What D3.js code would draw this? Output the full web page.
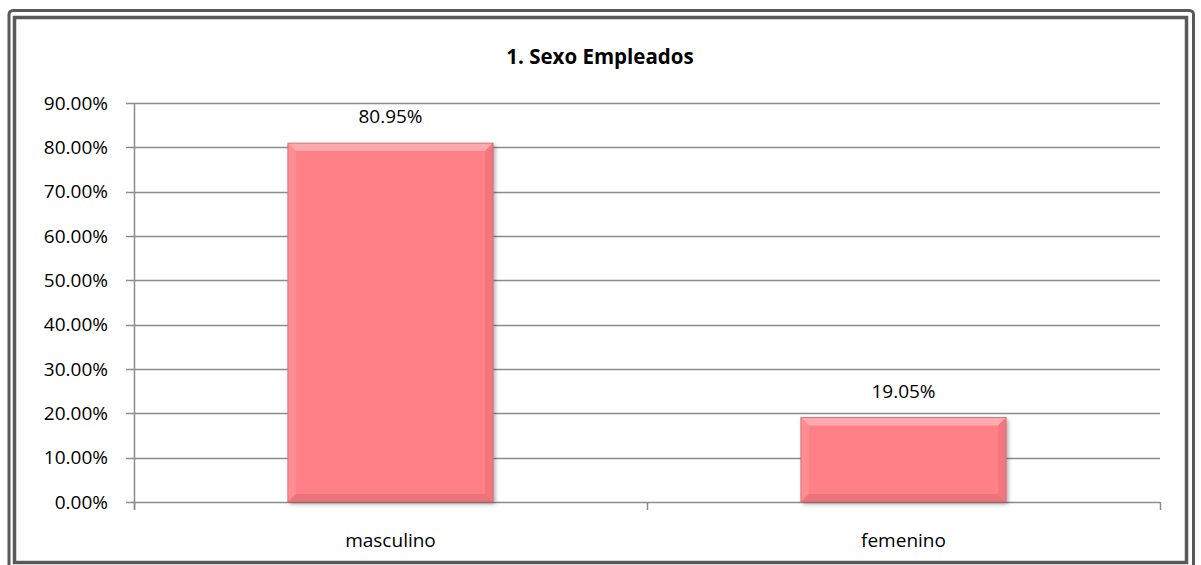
<!DOCTYPE html>
<html>
<head>
<meta charset="utf-8">
<script src="https://cdn.jsdelivr.net/npm/d3@7"></script>
<style>
  body { margin: 0; background: #fff; }
  svg { display: block; font-family: "Open Sans", "Noto Sans", sans-serif; }
</style>
</head>
<body>
<svg id="chart" width="1201" height="565"></svg>
<script>
const categories = ["masculino", "femenino"];
const values = [0.8095, 0.1905];
const valueLabels = ["80.95%", "19.05%"];
const yTicks = [0, 0.1, 0.2, 0.3, 0.4, 0.5, 0.6, 0.7, 0.8, 0.9];
const title = "1. Sexo Empleados";

const plot = { left: 134, right: 1160, top: 103, bottom: 502 };

const svg = d3.select("#chart");

// double frame
svg.append("rect")
    .attr("x", 9).attr("y", 10.5).attr("width", 1184.5).attr("height", 570)
    .attr("rx", 4)
    .attr("fill", "none").attr("stroke", "#595959").attr("stroke-width", 3);
svg.append("rect")
    .attr("x", 14.5).attr("y", 17.5).attr("width", 1172).attr("height", 545)
    .attr("fill", "none").attr("stroke", "#595959").attr("stroke-width", 3.5);

svg.append("text")
    .attr("x", 600).attr("y", 64)
    .attr("text-anchor", "middle")
    .attr("font-weight", "bold")
    .attr("font-size", 20.5)
    .text(title);

const x = d3.scaleBand()
    .domain(categories)
    .range([plot.left, plot.right])
    .paddingInner(0.6)
    .paddingOuter(0.3);

const y = d3.scaleLinear()
    .domain([0, 0.9])
    .range([plot.bottom, plot.top]);

// gridlines
svg.append("g")
    .selectAll("line")
    .data(yTicks)
    .join("line")
    .attr("x1", plot.left - 8).attr("x2", plot.right)
    .attr("y1", d => Math.round(y(d)) + 0.5).attr("y2", d => Math.round(y(d)) + 0.5)
    .attr("stroke", "#8c8c8c").attr("stroke-width", 1.5);

// y axis labels
svg.append("g")
    .selectAll("text")
    .data(yTicks)
    .join("text")
    .attr("x", plot.left - 26)
    .attr("y", d => y(d))
    .attr("dy", "0.35em")
    .attr("text-anchor", "end")
    .attr("font-size", 19)
    .attr("fill", "#000")
    .text(d => d3.format(".2%")(d));

// y axis line
svg.append("line")
    .attr("x1", plot.left + 0.5).attr("x2", plot.left + 0.5)
    .attr("y1", plot.top).attr("y2", plot.bottom + 8)
    .attr("stroke", "#8c8c8c").attr("stroke-width", 1.5);

// x ticks at band boundaries
const bounds = [plot.left, (plot.left + plot.right) / 2, plot.right];
svg.append("g")
    .selectAll("line")
    .data(bounds)
    .join("line")
    .attr("x1", d => Math.round(d) + 0.5).attr("x2", d => Math.round(d) + 0.5)
    .attr("y1", plot.bottom).attr("y2", plot.bottom + 8)
    .attr("stroke", "#8c8c8c").attr("stroke-width", 1.5);

// x labels
svg.append("g")
    .selectAll("text")
    .data(categories)
    .join("text")
    .attr("x", d => x(d) + x.bandwidth() / 2)
    .attr("y", 547)
    .attr("text-anchor", "middle")
    .attr("font-size", 19)
    .attr("fill", "#000")
    .text(d => d);

// bars with bevel
const defs = svg.append("defs");
const f = defs.append("filter").attr("id", "shadow").attr("x", "-10%").attr("y", "-10%").attr("width", "130%").attr("height", "130%");
f.append("feDropShadow").attr("dx", 2).attr("dy", 2).attr("stdDeviation", 2).attr("flood-color", "#000").attr("flood-opacity", 0.35);

const bars = svg.append("g").selectAll("g")
    .data(categories.map((c, i) => ({ c, v: values[i], label: valueLabels[i] })))
    .join("g");

const bv = 8;
bars.each(function(d) {
  const g = d3.select(this);
  const x0 = x(d.c), x1 = x(d.c) + x.bandwidth();
  const y0 = y(d.v), y1 = y(0);
  g.append("rect")
      .attr("x", x0).attr("y", y0).attr("width", x1 - x0).attr("height", y1 - y0)
      .attr("fill", "#ff8086").attr("filter", "url(#shadow)");
  g.append("polygon")
      .attr("points", [[x0, y0], [x1, y0], [x1 - bv, y0 + bv], [x0 + bv, y0 + bv]].join(" "))
      .attr("fill", "#ffaaae");
  g.append("polygon")
      .attr("points", [[x0, y0], [x0 + bv, y0 + bv], [x0 + bv, y1 - bv], [x0, y1]].join(" "))
      .attr("fill", "#ff8d92");
  g.append("polygon")
      .attr("points", [[x1, y0], [x1, y1], [x1 - bv, y1 - bv], [x1 - bv, y0 + bv]].join(" "))
      .attr("fill", "#f0777e");
  g.append("polygon")
      .attr("points", [[x0, y1], [x1, y1], [x1 - bv, y1 - bv], [x0 + bv, y1 - bv]].join(" "))
      .attr("fill", "#ea747b");
  g.append("rect")
      .attr("x", x0).attr("y", y0).attr("width", x1 - x0).attr("height", y1 - y0)
      .attr("fill", "none").attr("stroke", "#d0666e").attr("stroke-width", 0.8);
  g.append("text")
      .attr("x", (x0 + x1) / 2)
      .attr("y", y0 - 20)
      .attr("text-anchor", "middle")
      .attr("font-size", 19)
      .attr("fill", "#000")
      .text(d.label);
});
</script>
</body>
</html>
